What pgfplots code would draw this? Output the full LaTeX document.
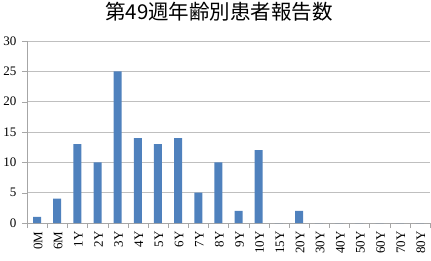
\documentclass[border=0pt]{standalone}
\usepackage{fontspec}
\setmainfont{Liberation Serif}
\newfontfamily\cjk{Noto Sans CJK JP}
\usepackage{pgfplots}
\pgfplotsset{compat=1.18}
\definecolor{barblue}{HTML}{4F81BD}
\definecolor{gridgray}{HTML}{BFBFBF}
\definecolor{axgray}{HTML}{A6A6A6}
\begin{document}
\begin{tikzpicture}[x=1pt,y=1pt]
\useasboundingbox (0,0) rectangle (431,260);
\node[font=\cjk\fontsize{20.5}{20.5}\selectfont] at (219,248) {第49週年齢別患者報告数};
\begin{axis}[
  at={(27pt,37pt)}, anchor=south west,
  scale only axis, width=403pt, height=182pt,
  xmin=-0.5, xmax=19.5, ymin=0, ymax=30,
  axis x line*=bottom, axis y line*=left,
  axis line style={axgray, -},
  xtick={0,...,19},
  xticklabels={0M,6M,1Y,2Y,3Y,4Y,5Y,6Y,7Y,8Y,9Y,10Y,15Y,20Y,30Y,40Y,50Y,60Y,70Y,80Y},
  x tick label style={rotate=90, anchor=east, font=\fontsize{13}{13}\selectfont},
  major x tick style={draw=none},
  minor xtick={-0.5,0.5,...,19.5},
  minor x tick style={axgray},
  minor tick length=5pt,
  ytick={0,5,...,30},
  y tick label style={font=\fontsize{13}{13}\selectfont},
  major y tick style={axgray},
  major tick length=5pt,
  tick align=outside,
  ymajorgrids, grid style={gridgray},
  xticklabel style={yshift=-1pt},
  yticklabel style={xshift=-2pt},
  /pgf/number format/assume math mode=true,
]
\addplot[ybar, bar width=8pt, fill=barblue, draw=none] coordinates {
(0,1) (1,4) (2,13) (3,10) (4,25) (5,14) (6,13) (7,14) (8,5) (9,10)
(10,2) (11,12) (12,0) (13,2) (14,0) (15,0) (16,0) (17,0) (18,0) (19,0)
};
\end{axis}
\end{tikzpicture}
\end{document}
